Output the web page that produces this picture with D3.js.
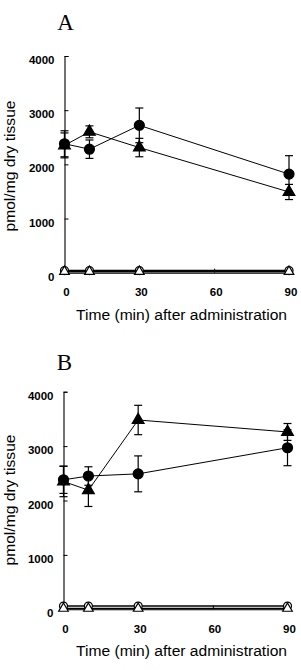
<!DOCTYPE html>
<html><head><meta charset="utf-8">
<script src="https://cdn.jsdelivr.net/npm/d3@7"></script>
<style>body{margin:0;background:#fff}svg{display:block}</style>
</head><body>
<svg id="c" width="301" height="670"></svg>
<script>
const times = [0, 10, 30, 90];
const xTicks = [0, 30, 60, 90];
const yTicks = [0, 1000, 2000, 3000, 4000];
const panelLabels = ["A", "B"];
const xTitle = "Time (min) after administration";
const yTitle = "pmol/mg dry tissue";

const A_filledCircle = [2380, 2280, 2720, 1820];
const A_filledCircleSE = [240, 170, 320, 340];
const A_filledTri = [2350, 2600, 2310, 1490];
const A_filledTriSE = [230, 110, 170, 140];
const A_openCircle = [40, 40, 40, 40];
const A_openTri = [20, 20, 20, 20];

const B_filledCircle = [2380, 2450, 2490, 2970];
const B_filledCircleSE = [250, 170, 330, 330];
const B_filledTri = [2350, 2190, 3480, 3260];
const B_filledTriSE = [280, 300, 270, 155];
const B_openCircle = [60, 60, 60, 60];
const B_openTri = [15, 15, 15, 15];

const svg = d3.select("#c");
const font = "'Liberation Sans', Arial, sans-serif";

function panel(label, layout, series) {
  const x = d3.scaleLinear().domain([0, 90]).range([layout.x0, layout.x1]);
  const y = d3.scaleLinear().domain([0, 4000]).range([layout.y0, layout.y1]);
  const g = svg.append("g");

  g.append("text").attr("x", layout.x0 + 1).attr("y", layout.labelY)
    .attr("text-anchor", "middle").attr("font-family", "'Liberation Serif', 'Times New Roman', serif")
    .attr("font-size", 23).text(label);

  // y axis
  const ya = g.append("g").attr("transform", `translate(${layout.x0},0)`)
    .call(d3.axisLeft(y).tickValues(yTicks).tickSize(-4).tickPadding(10).tickFormat(d3.format("d")));
  ya.select(".domain").attr("stroke", "#000").attr("stroke-width", 1.1);
  ya.selectAll(".tick line").attr("stroke", "#000");
  ya.selectAll("text").attr("font-family", font).attr("font-size", 11.5).attr("font-weight", "bold")
    .attr("fill", "#000").attr("dy", 7.5).attr("dominant-baseline", "auto");

  // x axis
  const xa = g.append("g").attr("transform", `translate(0,${layout.y0})`)
    .call(d3.axisBottom(x).tickValues(xTicks).tickSize(-4).tickPadding(12).tickFormat(d3.format("d")));
  xa.select(".domain").attr("stroke", "#000").attr("stroke-width", 1.1);
  xa.selectAll(".tick line").attr("stroke", "#000");
  xa.selectAll("text").attr("font-family", font).attr("font-size", 11.5).attr("font-weight", "bold")
    .attr("fill", "#000").attr("y", 23.5).attr("dy", 0).attr("dx", 1.5);

  g.append("text").attr("x", 181.5).attr("y", layout.y0 + 47)
    .attr("text-anchor", "middle").attr("font-family", font).attr("font-size", 14)
    .attr("textLength", 211).attr("lengthAdjust", "spacingAndGlyphs").text(xTitle);
  g.append("text").attr("transform", `translate(15,${layout.yTitleC}) rotate(-90)`)
    .attr("text-anchor", "middle").attr("font-family", font).attr("font-size", 14)
    .attr("textLength", 131).attr("lengthAdjust", "spacingAndGlyphs").text(yTitle);

  const line = d3.line().x((d, i) => x(times[i])).y(d => y(d));
  const triPath = d3.symbol().type(d3.symbolTriangle);

  series.forEach(s => {
    g.append("path").attr("d", line(s.values)).attr("fill", "none").attr("stroke", "#000").attr("stroke-width", s.open ? 1.6 : 1);
  });
  series.forEach(s => {
    if (s.se) {
      s.values.forEach((v, i) => {
        const cx = x(times[i]);
        const eg = g.append("g").attr("stroke", "#000").attr("stroke-width", 1.2);
        eg.append("line").attr("x1", cx).attr("x2", cx).attr("y1", y(v - s.se[i])).attr("y2", y(v + s.se[i]));
        [v - s.se[i], v + s.se[i]].forEach(e => eg.append("line").attr("x1", cx - 4).attr("x2", cx + 4).attr("y1", y(e)).attr("y2", y(e)));
      });
    }
  });
  series.forEach(s => {
    s.values.forEach((v, i) => {
      const cx = x(times[i]), cy = y(v);
      if (s.shape === "circle") {
        g.append("circle").attr("cx", cx).attr("cy", cy).attr("r", s.open ? 4 : 5)
          .attr("fill", s.open ? "#fff" : "#000").attr("stroke", "#000").attr("stroke-width", 1.2);
      } else {
        g.append("path").attr("d", triPath.size(s.open ? 40 : 60)()).attr("transform", `translate(${cx},${cy})`)
          .attr("fill", s.open ? "#fff" : "#000").attr("stroke", "#000").attr("stroke-width", 1.2);
      }
    });
  });
}

panel(panelLabels[0], {x0: 64.5, x1: 289, y0: 272.7, y1: 56, labelY: 30, yTitleC: 166}, [
  {values: A_openCircle, shape: "circle", open: true},
  {values: A_openTri, shape: "tri", open: true},
  {values: A_filledCircle, se: A_filledCircleSE, shape: "circle"},
  {values: A_filledTri, se: A_filledTriSE, shape: "tri"}
]);
panel(panelLabels[1], {x0: 63.5, x1: 287.5, y0: 609.3, y1: 391.7, labelY: 370, yTitleC: 500}, [
  {values: B_openCircle, shape: "circle", open: true},
  {values: B_openTri, shape: "tri", open: true},
  {values: B_filledCircle, se: B_filledCircleSE, shape: "circle"},
  {values: B_filledTri, se: B_filledTriSE, shape: "tri"}
]);
</script>
</body></html>
